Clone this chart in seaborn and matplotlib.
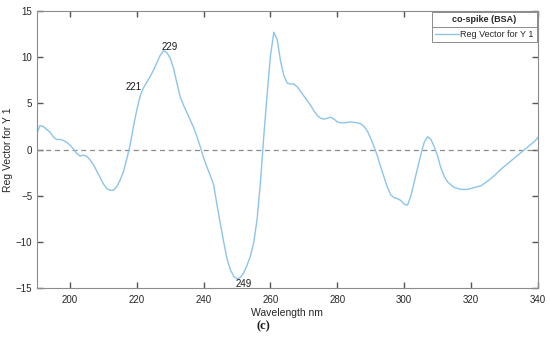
import numpy as np
import pandas as pd
import seaborn as sns
import matplotlib.pyplot as plt
from matplotlib.lines import Line2D

wavelength = [190, 191, 192, 193, 194, 195, 196, 197, 198, 199,
              200, 201, 202, 203, 204, 205, 206, 207, 208, 209,
              210, 211, 212, 213, 214, 215, 216, 217, 218, 219,
              220, 221, 222, 223, 224, 225, 226, 227, 228, 229,
              230, 231, 232, 233, 234, 235, 236, 237, 238, 239,
              240, 241, 242, 243, 244, 245, 246, 247, 248, 249,
              250, 251, 252, 253, 254, 255, 256, 257, 258, 259,
              260, 261, 262, 263, 264, 265, 266, 267, 268, 269,
              270, 271, 272, 273, 274, 275, 276, 277, 278, 279,
              280, 281, 282, 284, 286, 287, 288, 289, 290, 291,
              292, 293, 294, 295, 296, 297, 298, 299, 300, 301,
              302, 303, 304, 305, 306, 307, 308, 309, 310, 311,
              312, 313, 314, 315, 317, 319, 321, 323, 325, 327,
              329, 331, 333, 335, 337, 339, 340]
reg_vector = [1.6, 2.6, 2.5, 2.2, 1.9, 1.4, 1.1, 1.1, 1.0, 0.8,
              0.5, 0.1, -0.4, -0.7, -0.6, -0.7, -1.1, -1.6, -2.3, -3.0,
              -3.7, -4.2, -4.4, -4.4, -4.0, -3.3, -2.4, -1.0, 0.5, 2.5,
              4.3, 5.8, 6.7, 7.3, 7.9, 8.6, 9.4, 10.2, 10.7, 10.5,
              9.9, 8.8, 7.2, 5.7, 4.8, 4.0, 3.2, 2.4, 1.4, 0.3,
              -0.9, -1.9, -2.8, -3.8, -6.0, -8.0, -10.0, -11.8, -13.0, -13.7,
              -14.0, -13.8, -13.3, -12.5, -11.5, -10.0, -7.5, -3.5, 1.5, 6.0,
              10.2, 12.7, 11.9, 9.6, 8.0, 7.2, 7.1, 7.1, 6.8, 6.3,
              5.8, 5.3, 4.8, 4.2, 3.7, 3.4, 3.3, 3.4, 3.5, 3.3,
              3.0, 2.9, 2.9, 3.0, 2.9, 2.8, 2.5, 2.0, 1.2, 0.3,
              -0.7, -1.9, -3.0, -4.1, -4.9, -5.2, -5.3, -5.5, -5.9, -6.0,
              -5.0, -3.5, -2.0, -0.5, 0.8, 1.4, 1.1, 0.3, -0.7, -2.0,
              -2.9, -3.5, -3.8, -4.1, -4.3, -4.3, -4.1, -3.9, -3.4, -2.8,
              -2.1, -1.5, -0.9, -0.3, 0.3, 0.9, 1.3]

peak_labels = [221, 229, 249]
label_offsets = [(-7, 9), (3, 6), (10, -8)]

df = pd.DataFrame({'Wavelength nm': wavelength, 'Reg Vector for Y 1': reg_vector})

sns.set_theme(style='ticks')
plt.rcParams['font.family'] = ['Liberation Sans', 'DejaVu Sans']

fig = plt.figure(figsize=(5.5, 3.51), dpi=100)
ax = fig.add_axes([0.0664, 0.1786, 0.9116, 0.7901])

sns.lineplot(data=df, x='Wavelength nm', y='Reg Vector for Y 1', color='#8cc4ec',
             linewidth=1.0, label='Reg Vector for Y 1', ax=ax)
ax.axhline(0, color='#8c8c8c', linestyle=(0, (4, 3)), linewidth=0.9, zorder=1)

for wl, off in zip(peak_labels, label_offsets):
    val = df.loc[df['Wavelength nm'] == wl, 'Reg Vector for Y 1'].iloc[0]
    ax.annotate(str(wl), xy=(wl, val), xytext=off, textcoords='offset pixels',
                ha='center', va='center', fontsize=7, color='#1a1a1a')

ax.set_xlim(190, 340)
ax.set_ylim(-15, 15)
ax.set_xticks(range(200, 341, 20))
ax.set_yticks(range(-15, 16, 5))
ax.set_xlabel('Wavelength nm', fontsize=7.5, color='#262626', labelpad=2)
ax.set_ylabel('Reg Vector for Y 1', fontsize=7.5, color='#262626', labelpad=2)
ax.tick_params(axis='x', direction='in', top=True, bottom=True, length=4,
               width=1.0, color='#555555', labelsize=7, labelcolor='#262626', pad=5)
ax.tick_params(axis='y', direction='in', left=True, right=True, length=4,
               width=1.0, color='#555555', labelsize=7, labelcolor='#262626', pad=3)
for s in ax.spines.values():
    s.set_visible(True)
    s.set_color('#8c8c8c')
    s.set_linewidth(0.8)

leg = ax.legend(title='co-spike (BSA)', loc='upper right', fontsize=6.5,
                title_fontproperties={'weight': 'bold', 'size': 6.5},
                fancybox=False, edgecolor='#8c8c8c', framealpha=1,
                borderaxespad=0.15, handlelength=2.6, handletextpad=0.2,
                borderpad=0.3, labelspacing=0.7)
leg.get_frame().set_linewidth(0.7)

fig.canvas.draw()
inv = fig.transFigure.inverted()
lb = leg.get_window_extent().transformed(inv)
tb = leg.get_title().get_window_extent().transformed(inv)
eb = leg.get_texts()[0].get_window_extent().transformed(inv)
ysep = (tb.y0 + eb.y1) / 2
fig.add_artist(Line2D([lb.x0, lb.x1], [ysep, ysep], color='#8c8c8c', linewidth=0.7))

fig.text(0.478, 0.07, '(c)', ha='center', va='center', fontsize=9,
         family='Liberation Serif', fontweight='bold', color='#1a1a1a')

fig.savefig('out.png', dpi=100)
